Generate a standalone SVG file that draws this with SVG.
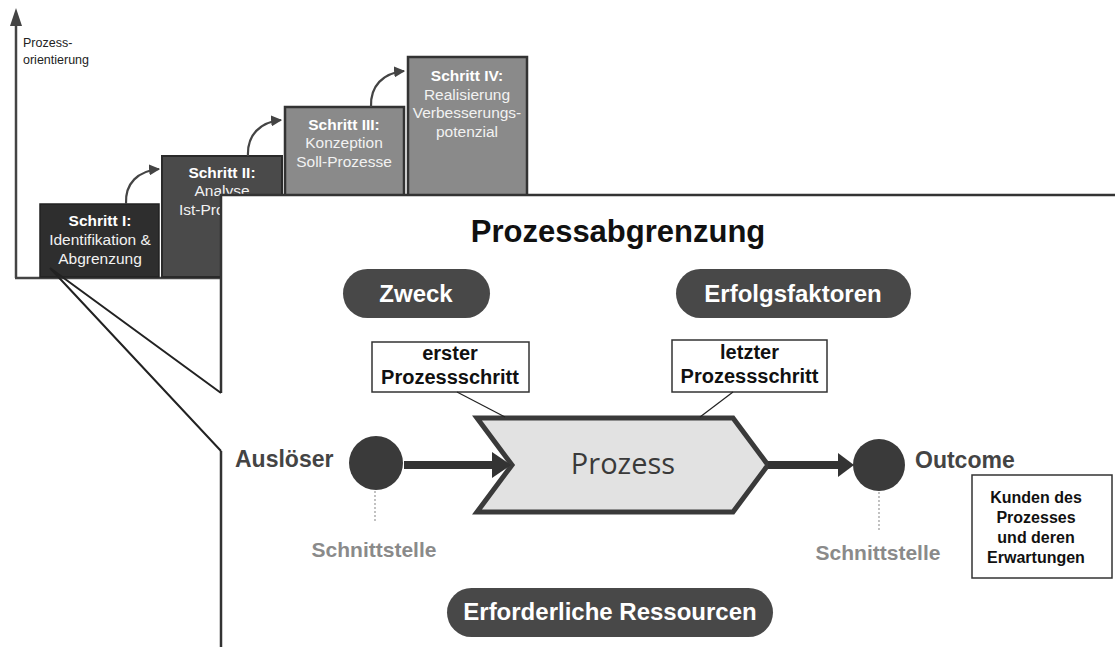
<svg xmlns="http://www.w3.org/2000/svg" width="1115" height="647" viewBox="0 0 1115 647">
  <defs>
    <marker id="curveHead" viewBox="0 0 10 10" refX="9" refY="5" markerWidth="5" markerHeight="5" orient="auto" markerUnits="strokeWidth">
      <path d="M0,0 L10,5 L0,10 z" fill="#444"/>
    </marker>
  </defs>
  <style>
    .sans { font-family: "Liberation Sans", Arial, sans-serif; }
    .step-title { font: bold 15.5px "Liberation Sans", Arial, sans-serif; fill: #fff; text-anchor: middle; }
    .step-text { font: 15.5px "Liberation Sans", Arial, sans-serif; fill: #f2f2f2; text-anchor: middle; }
    .pill { fill: #484848; }
    .pill-text { font: bold 24px "Liberation Sans", Arial, sans-serif; fill: #fff; text-anchor: middle; }
    .callout { fill: #fff; stroke: #333; stroke-width: 1.5; }
    .callout-text { font: bold 20px "Liberation Sans", Arial, sans-serif; fill: #111; text-anchor: middle; }
    .iface { font: bold 21px "Liberation Sans", Arial, sans-serif; fill: #8a8a8a; text-anchor: middle; }
    .event { font: bold 23px "Liberation Sans", Arial, sans-serif; fill: #444; }
    .dot { fill: #3a3a3a; }
    .dotted { stroke: #999; stroke-width: 1.2; stroke-dasharray: 2 2; }
    .leader { stroke: #222; stroke-width: 1.2; }
    .flow { stroke: #333; stroke-width: 8; }
  </style>

  <!-- axis -->
  <g id="axis">
    <line x1="16" y1="278" x2="16" y2="24" stroke="#444" stroke-width="2.5"/>
    <polygon points="16,8 10,26 22,26" fill="#444"/>
    <line x1="15" y1="278" x2="222" y2="278" stroke="#444" stroke-width="2.5"/>
    <text class="sans" x="23" y="47" font-size="12.5" fill="#222">Prozess-</text>
    <text class="sans" x="23" y="64" font-size="12.5" fill="#222">orientierung</text>
  </g>

  <!-- steps -->
  <g id="step1">
    <rect x="40" y="204" width="119" height="73" fill="#2e2e2e" stroke="#222" stroke-width="1.5"/>
    <text class="step-title" x="100" y="226">Schritt I:</text>
    <text class="step-text" x="100" y="245">Identifikation &amp;</text>
    <text class="step-text" x="100" y="264">Abgrenzung</text>
  </g>
  <g id="step2">
    <rect x="162" y="156" width="120" height="121" fill="#4a4a4a" stroke="#2a2a2a" stroke-width="2"/>
    <text class="step-title" x="222" y="178">Schritt II:</text>
    <text class="step-text" x="222" y="196">Analyse</text>
    <text class="step-text" x="222" y="215">Ist-Prozesse</text>
  </g>
  <g id="step3">
    <rect x="285" y="107" width="119" height="170" fill="#8a8a8a" stroke="#333" stroke-width="2.5"/>
    <text class="step-title" x="344" y="130">Schritt III:</text>
    <text class="step-text" x="344" y="148">Konzeption</text>
    <text class="step-text" x="344" y="167">Soll-Prozesse</text>
  </g>
  <g id="step4">
    <rect x="408" y="57" width="119" height="220" fill="#8a8a8a" stroke="#333" stroke-width="2.5"/>
    <text class="step-title" x="467" y="81">Schritt IV:</text>
    <text class="step-text" x="467" y="100">Realisierung</text>
    <text class="step-text" x="467" y="118">Verbesserungs-</text>
    <text class="step-text" x="467" y="137">potenzial</text>
  </g>

  <!-- step transitions -->
  <g id="step-arrows" fill="none" stroke="#444" stroke-width="2.2">
    <path d="M126,204 C125,183 138,171 159,169" marker-end="url(#curveHead)"/>
    <path d="M248,156 C247,135 260,122 281,120" marker-end="url(#curveHead)"/>
    <path d="M371,107 C370,86 383,73 404,71" marker-end="url(#curveHead)"/>
  </g>

  <!-- detail panel -->
  <g id="panel">
    <rect x="221" y="195" width="900" height="460" fill="#fff"/>
    <path d="M221,393 L221,195 L1116,195" fill="none" stroke="#333" stroke-width="2.5"/>
    <line x1="221" y1="451" x2="221" y2="648" stroke="#333" stroke-width="2.5"/>
  </g>
  <g id="zoom-lines" stroke="#222" stroke-width="2" fill="none">
    <polyline points="221,393 50,268 221,451"/>
  </g>

  <g id="title">
    <text class="sans" x="618" y="242" font-size="31" font-weight="bold" fill="#111" text-anchor="middle">Prozessabgrenzung</text>
  </g>

  <g id="zweck">
    <rect class="pill" x="343" y="269" width="147" height="49" rx="24.5"/>
    <text class="pill-text" x="416" y="302">Zweck</text>
  </g>
  <g id="erfolgsfaktoren">
    <rect class="pill" x="676" y="269" width="235" height="49" rx="24.5"/>
    <text class="pill-text" x="793" y="302">Erfolgsfaktoren</text>
  </g>
  <g id="ressourcen">
    <rect class="pill" x="447" y="588" width="326" height="49" rx="24.5"/>
    <text class="pill-text" x="610" y="620" font-size="23">Erforderliche Ressourcen</text>
  </g>

  <g id="erster-schritt">
    <rect class="callout" x="372" y="342" width="157" height="50"/>
    <text class="callout-text" x="450" y="360">erster</text>
    <text class="callout-text" x="450" y="384">Prozessschritt</text>
  </g>
  <g id="letzter-schritt">
    <rect class="callout" x="672" y="340" width="155" height="52"/>
    <text class="callout-text" x="749.5" y="359">letzter</text>
    <text class="callout-text" x="749.5" y="383">Prozessschritt</text>
  </g>

  <g id="prozess">
    <polygon points="477,418 733,418 768,465 733,512 477,512 512,465" fill="#e2e2e2" stroke="#3a3a3a" stroke-width="5" stroke-linejoin="miter"/>
    <text x="623" y="474" font-family="'Open Sans', 'DejaVu Sans', sans-serif" font-size="29" fill="#3a3a3a" text-anchor="middle">Prozess</text>
  </g>

  <g id="ausloeser">
    <circle class="dot" cx="376" cy="463" r="27"/>
    <text class="event" x="235" y="467">Auslöser</text>
    <line class="dotted" x1="375" y1="491" x2="375" y2="522"/>
    <text class="iface" x="374" y="557">Schnittstelle</text>
  </g>

  <g id="outcome">
    <circle class="dot" cx="879" cy="465" r="26"/>
    <text class="event" x="915" y="468">Outcome</text>
    <line class="dotted" x1="879" y1="492" x2="879" y2="530"/>
    <text class="iface" x="878" y="560">Schnittstelle</text>
  </g>

  <g id="kunden">
    <rect class="callout" x="972" y="475" width="140" height="103"/>
    <text class="sans" x="1036" y="503" font-size="16" font-weight="bold" fill="#111" text-anchor="middle">Kunden des</text>
    <text class="sans" x="1036" y="523" font-size="16" font-weight="bold" fill="#111" text-anchor="middle">Prozesses</text>
    <text class="sans" x="1036" y="543" font-size="16" font-weight="bold" fill="#111" text-anchor="middle">und deren</text>
    <text class="sans" x="1036" y="563" font-size="16" font-weight="bold" fill="#111" text-anchor="middle">Erwartungen</text>
  </g>

  <!-- connectors -->
  <g id="connectors">
    <line class="leader" x1="457" y1="392" x2="505" y2="417"/>
    <line class="leader" x1="733" y1="392" x2="700" y2="417"/>
    <line class="flow" x1="404" y1="465" x2="496" y2="465"/>
    <polygon points="492,452 511,465 492,478" fill="#333"/>
    <line class="flow" x1="768" y1="465" x2="842" y2="465" stroke-width="7"/>
    <polygon points="838,453 854,465 838,477" fill="#333"/>
  </g>
</svg>
